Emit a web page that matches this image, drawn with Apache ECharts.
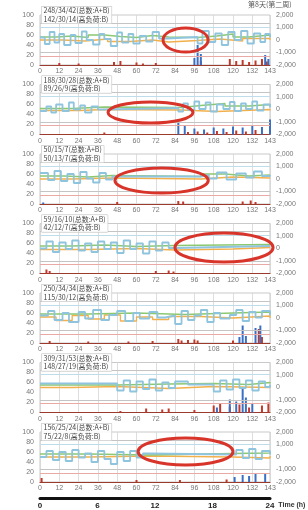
<!DOCTYPE html>
<html>
<head>
<meta charset="utf-8">
<script src="https://cdn.jsdelivr.net/npm/echarts@6/dist/echarts.min.js"></script>
<style>
  html, body { margin: 0; padding: 0; background: #fff; }
  #chart { width: 308px; height: 510px; }
</style>
</head>
<body>
<div id="chart"></div>
<script>
// panel captions (two lines each)
const totalLabels = ['248/34/42(总数:A+B)', '188/30/28(总数:A+B)', '50/15/7(总数:A+B)', '59/16/10(总数:A+B)',
  '250/34/34(总数:A+B)', '309/31/53(总数:A+B)', '156/25/24(总数:A+B)']
const highLabels = ['142/30/14(高负荷:B)', '89/26/9(高负荷:B)', '50/13/7(高负荷:B)', '42/12/7(高负荷:B)',
  '115/30/12(高负荷:B)', '148/27/19(高负荷:B)', '75/22/8(高负荷:B)']
const dayLabel = '第8天(第二周)'
const timeTicks = [0, 6, 12, 18, 24]

// horizontal reference levels (left axis)
const refLevels = [84, 76, 25, 18]

// step line values [slot, value]
const blue1 = [[0,55],[3,42],[6,66],[9,45],[12,62],[15,40],[19,60],[22,44],[26,67],[29,50],[33,41],[37,62],[40,52],[44,38],[48,65],[51,45],[55,62],[58,43],[62,58],[66,47],[70,66],[74,53],[79,56],[98,43],[101,68],[105,46],[109,63],[113,40],[117,66],[121,50],[125,68],[129,43],[133,63],[137,46],[140,62],[143,55]]
const green1 = [[0,56],[10,58],[20,55],[30,60],[40,57],[50,55],[60,59],[70,56],[80,55],[98,58],[110,62],[120,56],[130,60],[143,57]]
const orange1 = [[0,50],[14,48],[28,52],[42,47],[56,50],[70,46],[80,49],[98,52],[112,48],[126,53],[143,50]]
const red1 = [[12,4],[24,3],[46,6],[50,8],[60,5],[64,3],[72,4],[100,8],[118,12],[122,8],[126,10],[130,6],[134,9],[138,12],[141,7]]
const bar1 = [[96,14],[98,40],[100,22],[140,20],[142,12]]

const blue2 = [[0,47],[4,56],[7,44],[10,60],[14,47],[18,64],[21,50],[25,58],[28,44],[32,56],[36,50],[40,53],[86,46],[89,62],[92,49],[96,66],[99,51],[103,64],[106,46],[110,60],[114,51],[118,65],[121,47],[125,62],[128,51],[132,66],[135,48],[139,60],[143,54]]
const green2 = [[0,52],[20,55],[40,54],[88,58],[100,62],[115,57],[130,60],[143,58]]
const orange2 = [[0,48],[25,50],[40,49],[88,46],[110,50],[143,48]]
const red2 = [[40,4],[92,5],[98,6],[104,4],[110,7],[116,5],[122,8],[128,6],[134,9]]
const bar2 = [[86,26],[90,18],[96,12],[102,10],[108,14],[114,12],[120,16],[126,14],[132,18],[138,15],[143,30]]

const blue3 = [[0,62],[5,48],[9,66],[13,46],[17,60],[21,42],[25,64],[29,51],[33,43],[37,62],[41,49],[45,55],[100,58],[105,51],[110,63],[116,49],[122,61],[128,53],[133,65],[138,56],[143,58]]
const green3 = [[0,56],[15,54],[30,57],[45,55],[100,60],[115,56],[130,58],[143,57]]
const orange3 = [[0,50],[20,52],[45,50],[100,54],[120,52],[143,52]]
const red3 = [[48,4],[86,6],[89,5],[126,5],[131,7],[134,4]]
const bar3 = [[2,3]]

const blue4 = [[0,50],[4,64],[8,43],[12,62],[16,49],[20,66],[24,46],[28,60],[32,43],[36,64],[40,49],[44,62],[48,41],[52,66],[56,49],[60,60],[64,40],[68,64],[72,46],[76,62],[80,51],[84,55],[143,55]]
const green4 = [[0,55],[20,57],[40,54],[60,56],[84,58],[143,58]]
const orange4 = [[0,48],[30,50],[60,47],[84,49],[120,52],[143,52]]
const red4 = [[4,8],[6,5],[72,5],[80,6],[83,4]]
const bar4 = []

const blue5 = [[0,55],[5,64],[9,46],[14,60],[18,42],[24,62],[28,49],[33,66],[38,46],[43,56],[48,64],[53,44],[58,60],[62,49],[68,62],[73,51],[78,55],[84,38],[88,64],[92,46],[96,55],[100,66],[104,42],[108,60],[112,49],[118,56],[122,66],[126,44],[130,62],[134,51],[138,64],[143,55]]
const green5 = [[0,58],[30,60],[60,57],[90,60],[120,62],[143,58]]
const orange5 = [[0,52],[10,45],[20,55],[30,48],[40,56],[50,44],[60,52],[70,47],[80,53],[100,50],[120,54],[143,50]]
const red5 = [[6,4],[30,3],[55,3],[70,4],[86,8],[88,5],[92,6],[96,7],[98,5],[120,5],[136,28],[138,12]]
const bar5 = [[124,12],[126,35],[128,14],[134,30],[137,35]]

const blue6 = [[0,58],[46,58],[48,44],[52,64],[56,42],[60,62],[64,47],[68,66],[72,44],[76,60],[80,49],[84,62],[92,56],[106,56],[108,42],[112,64],[116,46],[120,66],[124,49],[128,64],[132,44],[136,62],[140,51],[143,56]]
const green6 = [[0,55],[48,57],[80,58],[108,56],[130,60],[143,58]]
const orange6 = [[0,50],[20,52],[48,48],[80,52],[108,50],[143,52]]
const red6 = [[50,3],[66,8],[76,6],[80,8],[96,5],[108,14],[112,18],[118,12],[124,16],[130,10],[138,14],[142,20]]
const bar6 = [[110,10],[118,26],[122,22],[126,50],[128,30],[132,18]]

const blue7 = [[0,50],[4,62],[8,44],[12,60],[16,42],[20,64],[24,49],[28,57],[32,40],[36,62],[40,46],[44,36],[48,60],[52,42],[56,62],[60,49],[64,57],[68,55],[120,55],[122,64],[126,48],[130,66],[134,46],[138,62],[143,55]]
const green7 = [[0,56],[30,54],[68,57],[120,58],[143,60]]
const orange7 = [[0,50],[30,52],[68,50],[120,48],[143,52]]
const red7 = [[1,8],[60,4],[87,4],[116,5]]
const bar7 = [[121,10],[126,14],[130,12],[134,16],[140,18]]

// red ellipse callouts: [panel, centre slot, centre value, x radius (slots), y radius (value)]
const callouts = [[0, 90.5, 50, 14, 24], [1, 68.7, 44, 26.4, 21], [2, 75.6, 47, 29, 25], [3, 114.4, 52, 30.5, 29], [6, 90.5, 61, 29.5, 27]]

const blues = [blue1, blue2, blue3, blue4, blue5, blue6, blue7]
const greens = [green1, green2, green3, green4, green5, green6, green7]
const oranges = [orange1, orange2, orange3, orange4, orange5, orange6, orange7]
const reds = [red1, red2, red3, red4, red5, red6, red7]
const bars = [bar1, bar2, bar3, bar4, bar5, bar6, bar7]

const refColors = ['#c4c4c4', '#bfdcea', '#c4c4c4', '#e9aaa6']
const font = '"Liberation Sans", "Noto Sans CJK SC", sans-serif'
const cjk = '"Noto Sans CJK SC", sans-serif'
const tickLabel = { fontSize: 7, color: '#777', fontFamily: font }

const chart = echarts.init(document.getElementById('chart'))

const grids = []
const xAxes = []
const yAxes = []
const series = []
const captions = []
const greenIndex = []

for (let p = 0; p < 7; p++) {
  const top = 15 + 69.5 * p
  grids.push({ left: 40, right: 38, top: top, height: 50, show: true, borderColor: '#bbb', borderWidth: 0.8 })
  xAxes.push({
    type: 'value', gridIndex: p, min: 0, max: 143, interval: 12,
    axisLine: { lineStyle: { color: '#9b3b2e', width: 1.2 } },
    axisTick: { show: false },
    axisLabel: { ...tickLabel, margin: 3 },
    splitLine: { show: true, lineStyle: { color: '#d6d6d6', width: 0.8 } }
  })
  yAxes.push({
    type: 'value', gridIndex: p, min: 0, max: 100, interval: 20,
    axisLine: { show: false }, axisTick: { show: false },
    axisLabel: { ...tickLabel, margin: 6 },
    splitLine: { show: false }
  })
  yAxes.push({
    type: 'value', gridIndex: p, position: 'right', min: -2000, max: 2000, interval: 1000,
    axisLine: { show: false }, axisTick: { show: false },
    axisLabel: { ...tickLabel, margin: 6, formatter: v => v.toLocaleString('en-US') },
    splitLine: { show: false }
  })

  const axes = { xAxisIndex: p, yAxisIndex: 2 * p }
  series.push({
    type: 'line', ...axes, step: 'end', data: oranges[p], symbol: 'none',
    lineStyle: { color: '#f2b04c', width: 1.3 },
    markLine: {
      silent: true, symbol: 'none', label: { show: false },
      data: refLevels.map((v, k) => ({ yAxis: v, lineStyle: { color: refColors[k], type: 'solid', width: 1.2 } }))
    }
  })
  greenIndex.push(series.length)
  series.push({
    type: 'line', ...axes, step: 'end', data: greens[p], symbol: 'none',
    lineStyle: { color: '#8cc870', width: 1.4 }
  })
  series.push({
    type: 'line', ...axes, step: 'end', data: blues[p], symbol: 'none',
    lineStyle: { color: '#8fc4df', width: 1.8 }
  })
  series.push({
    type: 'bar', ...axes, data: reds[p], barWidth: 2, barGap: '-100%',
    itemStyle: { color: '#c0392b' }
  })
  series.push({
    type: 'bar', ...axes, data: bars[p], barWidth: 2, barGap: '-100%',
    itemStyle: { color: '#3a6fc4' }
  })

  captions.push({
    type: 'text', id: 'cap' + p, left: 41, top: top - 9, z: 50,
    style: {
      text: totalLabels[p] + '\n' + highLabels[p],
      font: '7px ' + cjk, fill: '#444', lineHeight: 8.5,
      backgroundColor: 'rgba(255,255,255,0.85)', borderColor: '#bbb', borderWidth: 0.5, padding: [0, 2]
    }
  })
}

// time axis along the bottom
grids.push({ left: 40, right: 38, top: 498, height: 1 })
xAxes.push({
  type: 'value', gridIndex: 7, min: 0, max: 24, interval: 6,
  axisLine: { lineStyle: { color: '#111', width: 3 } },
  axisTick: { show: false },
  axisLabel: { fontSize: 8, fontWeight: 'bold', color: '#222', fontFamily: font, margin: 4,
    formatter: v => timeTicks.includes(v) ? String(v) : '' },
  splitLine: { show: false },
  name: 'Time (h)', nameLocation: 'end', nameGap: 6,
  nameTextStyle: { fontSize: 7, fontWeight: 'bold', color: '#333', fontFamily: font, verticalAlign: 'top', padding: [3, 0, 0, 0] }
})
yAxes.push({ type: 'value', gridIndex: 7, show: false })

captions.push({
  type: 'text', id: 'day', left: 248, top: 1,
  style: { text: dayLabel, font: '7px ' + cjk, fill: '#555' }
})

chart.setOption({
  animation: false,
  grid: grids,
  xAxis: xAxes,
  yAxis: yAxes,
  series: series,
  graphic: { elements: captions }
})

// place the red ellipses from data coordinates
const rings = callouts.map(([p, cx, cy, rx, ry], k) => {
  const finder = { seriesIndex: greenIndex[p] }
  const c = chart.convertToPixel(finder, [cx, cy])
  const r = chart.convertToPixel(finder, [cx + rx, cy + ry])
  return {
    type: 'ellipse', id: 'ring' + k, z: 60,
    shape: { cx: c[0], cy: c[1], rx: Math.abs(r[0] - c[0]), ry: Math.abs(c[1] - r[1]) },
    style: { fill: 'none', stroke: '#d8342a', lineWidth: 3 }
  }
})
chart.setOption({ graphic: { elements: captions.concat(rings) } })
</script>
</body>
</html>
